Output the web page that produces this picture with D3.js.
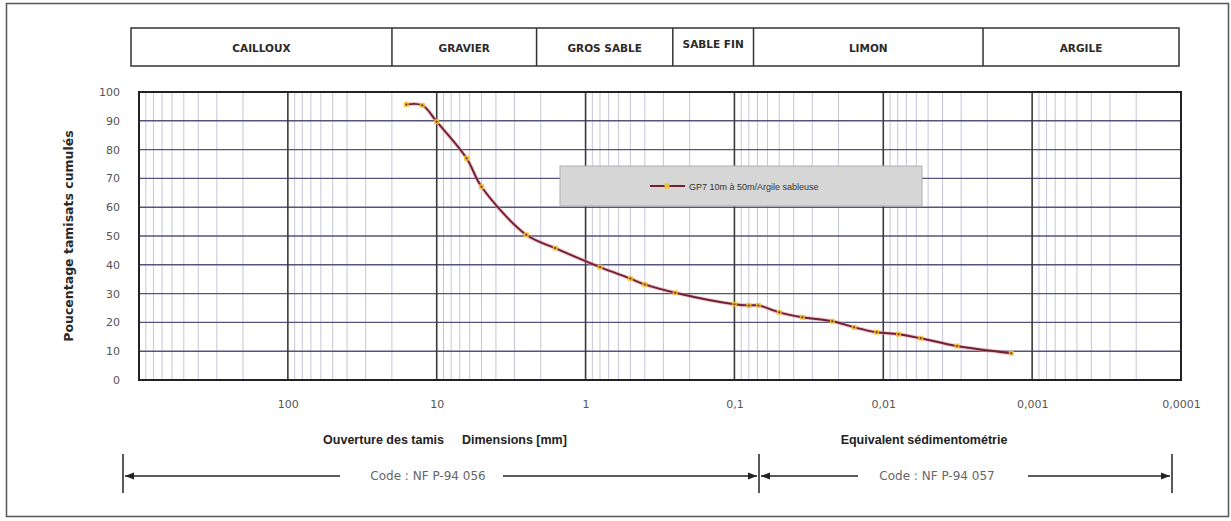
<!DOCTYPE html>
<html>
<head>
<meta charset="utf-8">
<script src="https://cdn.jsdelivr.net/npm/d3@7"></script>
<style>
  html, body { margin: 0; padding: 0; background: #fff; }
  svg { display: block; }
</style>
</head>
<body>
<div id="chart"></div>
<script>
  // Granulometric curve (GP7) - log scale of sieve openings, decreasing to the right
  const diameters = [16, 12.5, 10, 6.3, 5, 2.5, 1.6, 0.8, 0.5, 0.4, 0.25, 0.1, 0.08, 0.069, 0.05, 0.035, 0.022, 0.0157, 0.0111, 0.0079, 0.0056, 0.0032, 0.00138];
  const passing = [95.7, 95.4, 89.7, 77, 67.1, 50.4, 45.8, 39.2, 35.2, 33.2, 30.3, 26.3, 25.9, 25.9, 23.5, 21.8, 20.4, 18.3, 16.6, 15.9, 14.5, 11.8, 9.3];
  const seriesName = 'GP7 10m à 50m/Argile sableuse';

  const xTickValues = [100, 10, 1, 0.1, 0.01, 0.001, 0.0001];
  const xTickLabels = ['100', '10', '1', '0,1', '0,01', '0,001', '0,0001'];
  const yTickValues = [0, 10, 20, 30, 40, 50, 60, 70, 80, 90, 100];

  // header bands (soil classes), boundaries as fraction of header width
  const bandNames = ['CAILLOUX', 'GRAVIER', 'GROS SABLE', 'SABLE FIN', 'LIMON', 'ARGILE'];
  const bandEdges = [0, 0.249, 0.387, 0.517, 0.594, 0.813, 1];

  const width = 1231, height = 521;
  const margin = { left: 139, right: 50, top: 92, bottom: 141 };

  const svg = d3.select('#chart').append('svg')
    .attr('width', width)
    .attr('height', height)
    .attr('font-family', 'DejaVu Sans, sans-serif');

  // outer frame
  svg.append('rect')
    .attr('x', 6.5).attr('y', 3.5)
    .attr('width', 1222).attr('height', 513)
    .attr('fill', 'none').attr('stroke', '#555').attr('stroke-width', 1.5);

  const x = d3.scaleLog().domain([1000, 0.0001]).range([margin.left, width - margin.right]);
  const y = d3.scaleLinear().domain([0, 100]).range([height - margin.bottom, margin.top]);

  // header
  const hx = d3.scaleLinear().domain([0, 1]).range([131, 1179]);
  const header = svg.append('g');
  header.append('rect')
    .attr('x', hx(0)).attr('y', 28)
    .attr('width', hx(1) - hx(0)).attr('height', 38)
    .attr('fill', '#fff').attr('stroke', '#333').attr('stroke-width', 1.5);
  header.selectAll('line.div')
    .data(bandEdges.slice(1, -1))
    .enter().append('line')
    .attr('x1', d => hx(d)).attr('x2', d => hx(d))
    .attr('y1', 28).attr('y2', 66)
    .attr('stroke', '#333').attr('stroke-width', 1.5);
  header.selectAll('text')
    .data(bandNames)
    .enter().append('text')
    .attr('x', (d, i) => (hx(bandEdges[i]) + hx(bandEdges[i + 1])) / 2)
    .attr('y', d => d === 'SABLE FIN' ? 48 : 52)
    .attr('text-anchor', 'middle')
    .attr('font-size', 10.5)
    .attr('font-weight', 'bold')
    .attr('fill', '#2a2a2a')
    .text(d => d);

  const plot = svg.append('g');

  // minor vertical grid
  const minor = [];
  for (let k = -4; k <= 2; k++) {
    for (let m = 2; m <= 9; m++) minor.push(m * Math.pow(10, k));
  }
  plot.selectAll('line.minor')
    .data(minor)
    .enter().append('line')
    .attr('x1', d => x(d)).attr('x2', d => x(d))
    .attr('y1', y(0)).attr('y2', y(100))
    .attr('stroke', '#c6c6da').attr('stroke-width', 1);

  // horizontal grid
  plot.selectAll('line.h')
    .data(yTickValues.slice(1, -1))
    .enter().append('line')
    .attr('x1', x(1000)).attr('x2', x(0.0001))
    .attr('y1', d => y(d)).attr('y2', d => y(d))
    .attr('stroke', '#55557a').attr('stroke-width', 1.4);

  // major vertical grid
  plot.selectAll('line.major')
    .data(xTickValues.slice(0, -1))
    .enter().append('line')
    .attr('x1', d => x(d)).attr('x2', d => x(d))
    .attr('y1', y(0)).attr('y2', y(100))
    .attr('stroke', '#3a3a3a').attr('stroke-width', 1.6);

  plot.append('rect')
    .attr('x', x(1000)).attr('y', y(100))
    .attr('width', x(0.0001) - x(1000)).attr('height', y(0) - y(100))
    .attr('fill', 'none').attr('stroke', '#222').attr('stroke-width', 2);

  // axes (labels only)
  const xAxis = svg.append('g')
    .attr('transform', `translate(0, ${y(0) + 17})`)
    .call(d3.axisBottom(x).tickValues(xTickValues).tickFormat((d, i) => xTickLabels[i]).tickSize(0));
  xAxis.select('.domain').remove();
  xAxis.selectAll('text').attr('font-size', 11).attr('fill', '#555').attr('font-family', 'DejaVu Sans, sans-serif');

  const yAxis = svg.append('g')
    .attr('transform', `translate(${x(1000) - 16}, 0)`)
    .call(d3.axisLeft(y).tickValues(yTickValues).tickSize(0));
  yAxis.select('.domain').remove();
  yAxis.selectAll('text').attr('font-size', 11).attr('fill', '#555').attr('font-family', 'DejaVu Sans, sans-serif');

  svg.append('text')
    .attr('transform', `translate(69, ${(y(0) + y(100)) / 2}) rotate(-90)`)
    .attr('text-anchor', 'middle')
    .attr('dominant-baseline', 'middle')
    .attr('font-size', 12.5)
    .attr('font-weight', 'bold')
    .attr('fill', '#2a2a2a')
    .text('Poucentage tamisats cumulés');

  // curve
  const pts = diameters.map((d, i) => ({ d, v: passing[i] }));
  const line = d3.line()
    .x(p => x(p.d))
    .y(p => y(p.v))
    .curve(d3.curveCatmullRom.alpha(0.5));

  plot.append('path')
    .datum(pts)
    .attr('d', line)
    .attr('fill', 'none')
    .attr('stroke', '#e890a0')
    .attr('stroke-width', 3.8)
    .attr('stroke-opacity', 0.55);
  plot.append('path')
    .datum(pts)
    .attr('d', line)
    .attr('fill', 'none')
    .attr('stroke', '#6e2233')
    .attr('stroke-width', 1.9);
  plot.selectAll('rect.mk')
    .data(pts)
    .enter().append('rect')
    .attr('x', p => x(p.d) - 2.5).attr('y', p => y(p.v) - 2.5)
    .attr('width', 5).attr('height', 5)
    .attr('fill', '#f0c030').attr('opacity', 0.9);
  plot.selectAll('circle.mk')
    .data(pts)
    .enter().append('circle')
    .attr('cx', p => x(p.d)).attr('cy', p => y(p.v))
    .attr('r', 1)
    .attr('fill', '#6e2233');

  // legend
  const lg = svg.append('g');
  lg.append('rect')
    .attr('x', 560).attr('y', 166).attr('width', 362).attr('height', 40)
    .attr('fill', '#d6d6d6').attr('stroke', '#b0b0b0');
  lg.append('line')
    .attr('x1', 650).attr('x2', 685).attr('y1', 186).attr('y2', 186)
    .attr('stroke', '#6e2233').attr('stroke-width', 1.8);
  lg.append('rect')
    .attr('x', 664.5).attr('y', 183.5).attr('width', 5).attr('height', 5)
    .attr('fill', '#f0c030');
  lg.append('text')
    .attr('x', 689).attr('y', 189.5)
    .attr('font-size', 9)
    .attr('font-family', 'Liberation Sans, Arial, sans-serif')
    .attr('fill', '#333')
    .text(seriesName);

  // bottom titles
  const bt = svg.append('g')
    .attr('font-size', 12.5).attr('font-weight', 'bold').attr('fill', '#222')
    .attr('font-family', 'Liberation Sans, Arial, sans-serif');
  bt.append('text').attr('x', 444).attr('y', 444).attr('text-anchor', 'end').text('Ouverture des tamis');
  bt.append('text').attr('x', 462).attr('y', 444).text('Dimensions  [mm]');
  bt.append('text').attr('x', 924).attr('y', 444).attr('text-anchor', 'middle').text('Equivalent sédimentométrie');

  // code arrows
  const defs = svg.append('defs');
  defs.append('marker')
    .attr('id', 'ah').attr('viewBox', '0 0 10 10')
    .attr('refX', 10).attr('refY', 5)
    .attr('markerWidth', 8).attr('markerHeight', 6)
    .attr('orient', 'auto-start-reverse')
    .append('path').attr('d', 'M0,1 L10,5 L0,9 Z').attr('fill', '#222');

  const ay = 476;
  const ar = svg.append('g').attr('stroke', '#222').attr('stroke-width', 1.5);
  [123, 759, 1172].forEach(bx => {
    ar.append('line').attr('x1', bx).attr('x2', bx).attr('y1', 454).attr('y2', 493);
  });
  const segs = [[125, 340, 'start'], [503, 757, 'end'], [761, 858, 'start'], [1028, 1170, 'end']];
  segs.forEach(s => {
    const l = ar.append('line').attr('x1', s[0]).attr('x2', s[1]).attr('y1', ay).attr('y2', ay);
    if (s[2] === 'start') l.attr('marker-start', 'url(#ah)');
    else l.attr('marker-end', 'url(#ah)');
  });
  svg.append('text').attr('x', 428).attr('y', ay + 4).attr('text-anchor', 'middle')
    .attr('font-size', 12).attr('fill', '#666').text('Code : NF P-94 056');
  svg.append('text').attr('x', 937).attr('y', ay + 4).attr('text-anchor', 'middle')
    .attr('font-size', 12).attr('fill', '#666').text('Code : NF P-94 057');
</script>
</body>
</html>
